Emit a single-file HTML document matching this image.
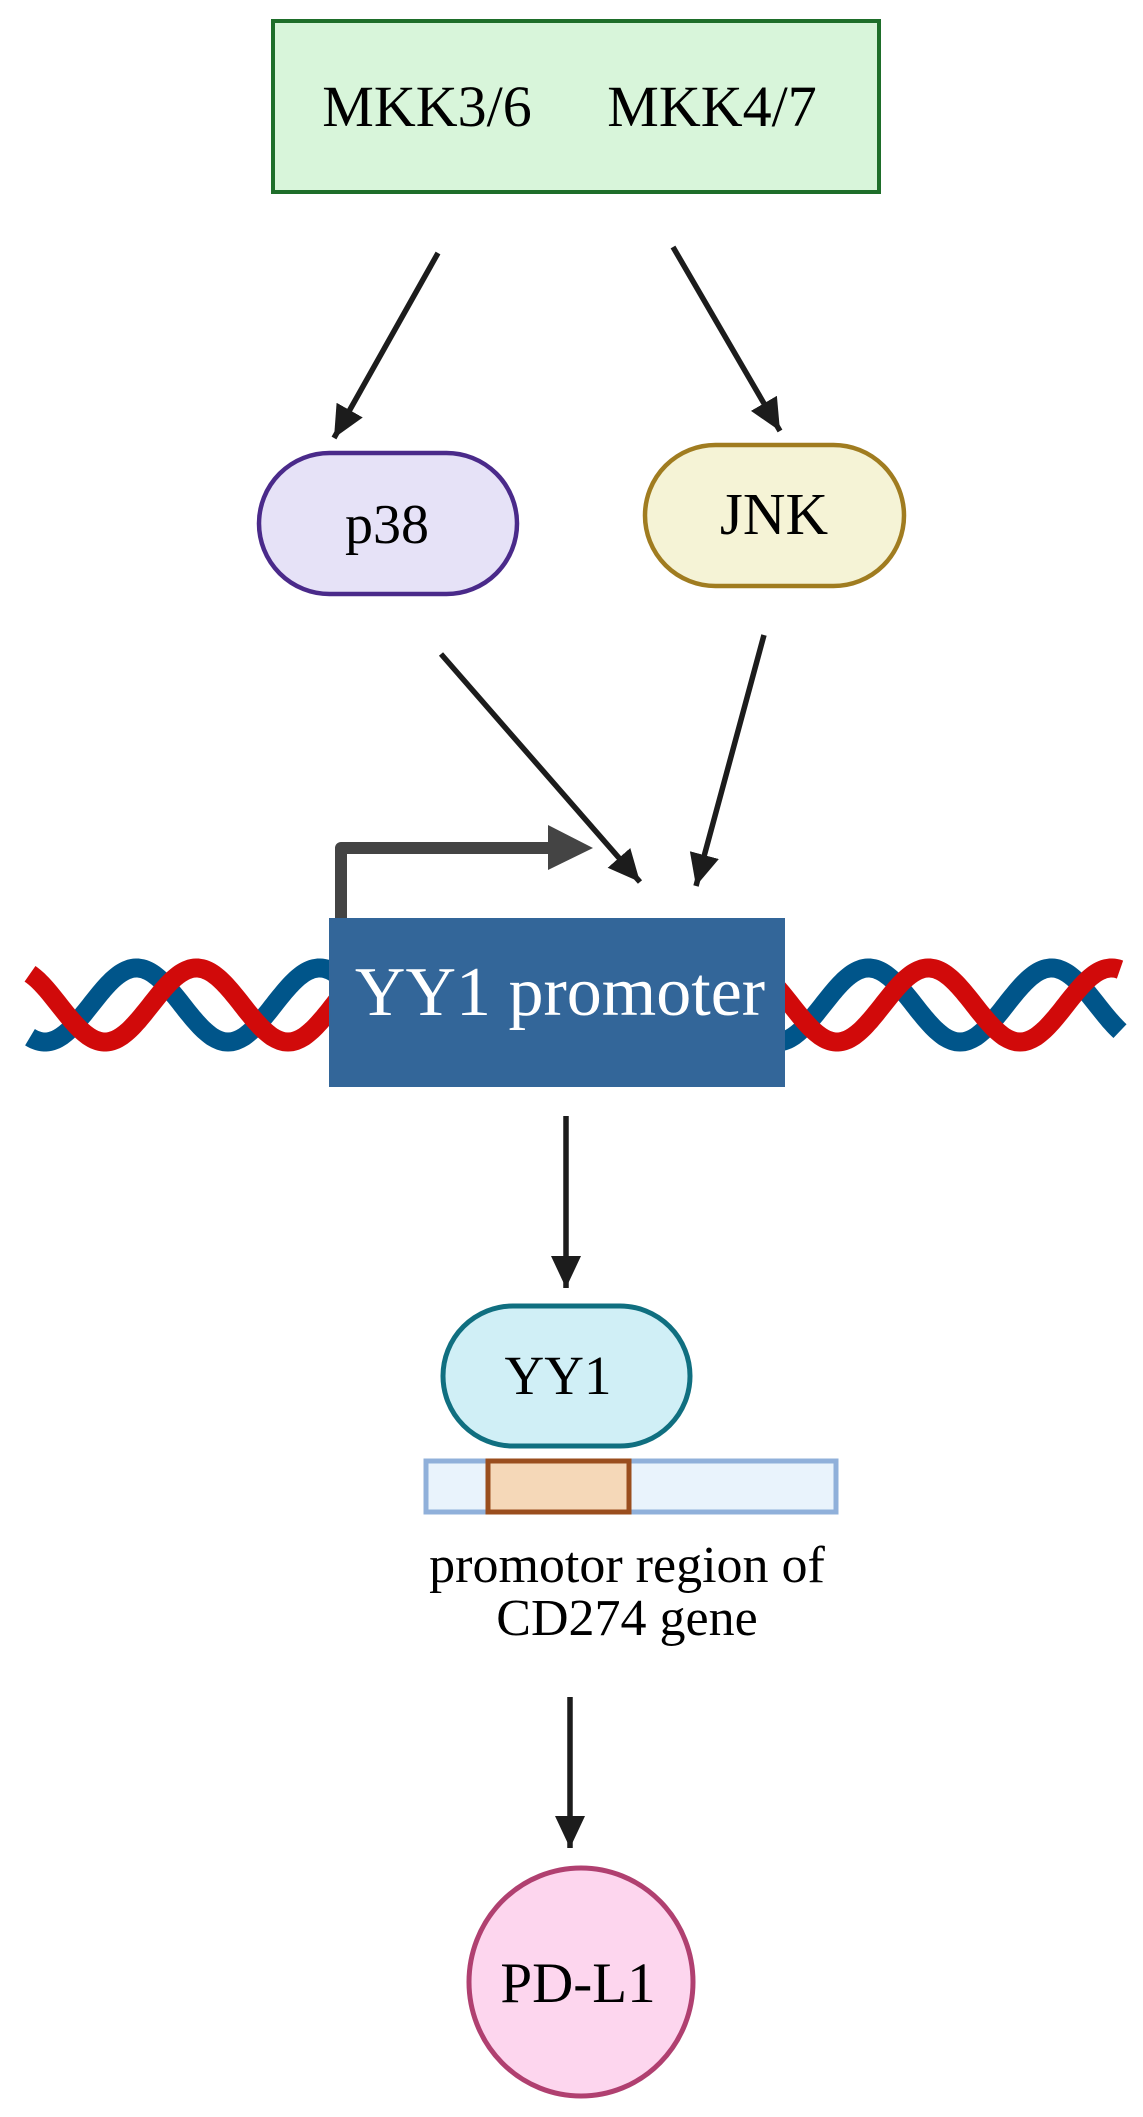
<!DOCTYPE html>
<html><head><meta charset="utf-8"><style>
html,body{margin:0;padding:0;background:#fff;}
svg{display:block;}
text{font-family:"Liberation Serif",serif;fill:#000;}
</style></head><body>
<svg width="1143" height="2117" viewBox="0 0 1143 2117" xmlns="http://www.w3.org/2000/svg">
<defs>
<marker id="ah" markerUnits="userSpaceOnUse" markerWidth="34" markerHeight="32" refX="32" refY="15" orient="auto">
<path d="M0,0 L32,15 L0,30 Z" fill="#1c1c1c"/>
</marker>
</defs>
<rect x="0" y="0" width="1143" height="2117" fill="#fff"/>
<rect x="273" y="21" width="606" height="171" fill="#d8f5da" stroke="#1e6e2a" stroke-width="4"/>
<text x="427" y="126" font-size="58" text-anchor="middle">MKK3/6</text>
<text x="712" y="126" font-size="58" text-anchor="middle">MKK4/7</text>
<line x1="438" y1="253" x2="334" y2="438" stroke="#1c1c1c" stroke-width="5.5" marker-end="url(#ah)"/>
<line x1="673" y1="247" x2="780" y2="431" stroke="#1c1c1c" stroke-width="5.5" marker-end="url(#ah)"/>
<rect x="259" y="453" width="258" height="141" rx="70.5" fill="#e6e2f7" stroke="#4a2a8a" stroke-width="4.5"/>
<text x="387" y="543" font-size="56" text-anchor="middle">p38</text>
<rect x="645" y="445" width="259" height="141" rx="70.5" fill="#f5f3d6" stroke="#a07c20" stroke-width="4.5"/>
<text x="774" y="534" font-size="59" text-anchor="middle">JNK</text>
<line x1="441" y1="654" x2="640" y2="882" stroke="#1c1c1c" stroke-width="5.5" marker-end="url(#ah)"/>
<line x1="764" y1="635" x2="696" y2="886" stroke="#1c1c1c" stroke-width="5.5" marker-end="url(#ah)"/>
<g fill="none" stroke-width="19" stroke-linecap="butt">
<path id="blue" stroke="#00558a" d=""/>
<path id="red" stroke="#d10a0a" d=""/>
</g>
<rect x="329" y="918" width="456" height="169" fill="#336699"/>
<text x="560" y="1015" font-size="70" text-anchor="middle" style="fill:#fff">YY1 promoter</text>
<path d="M341,918 L341,848 L552,848" fill="none" stroke="#444" stroke-width="12" stroke-linejoin="round"/>
<path d="M548,825 L593,848 L548,870 Z" fill="#444"/>
<line x1="566" y1="1116" x2="566" y2="1288" stroke="#1c1c1c" stroke-width="5.5" marker-end="url(#ah)"/>
<rect x="443" y="1306" width="247" height="140" rx="70" fill="#d0eff6" stroke="#106f80" stroke-width="5"/>
<text x="558" y="1394" font-size="55" text-anchor="middle">YY1</text>
<rect x="426" y="1461" width="410" height="51" fill="#e9f3fc" stroke="#90b0da" stroke-width="5"/>
<rect x="488" y="1461" width="141" height="51" fill="#f5d8b8" stroke="#9a4e1e" stroke-width="5"/>
<text x="627" y="1582" font-size="52" text-anchor="middle">promotor region of</text>
<text x="627" y="1635" font-size="52" text-anchor="middle">CD274 gene</text>
<line x1="570" y1="1697" x2="570" y2="1848" stroke="#1c1c1c" stroke-width="5.5" marker-end="url(#ah)"/>
<ellipse cx="581" cy="1982" rx="112" ry="114" fill="#fdd6ee" stroke="#b04070" stroke-width="5"/>
<text x="578" y="2002" font-size="57" text-anchor="middle">PD-L1</text>
</svg>
<script>
(function(){
function wave(phase){
  var d="",P=183,A=37,C=1005;
  for(var x=30;x<=1120;x+=2){
    var y=C+A*Math.cos(2*Math.PI*(x-phase)/P);
    d+=(x===30?"M":"L")+x+","+y.toFixed(1)+" ";
  }
  return d;
}
document.getElementById("blue").setAttribute("d",wave(45));
document.getElementById("red").setAttribute("d",wave(105));
})();
</script>
</body></html>
